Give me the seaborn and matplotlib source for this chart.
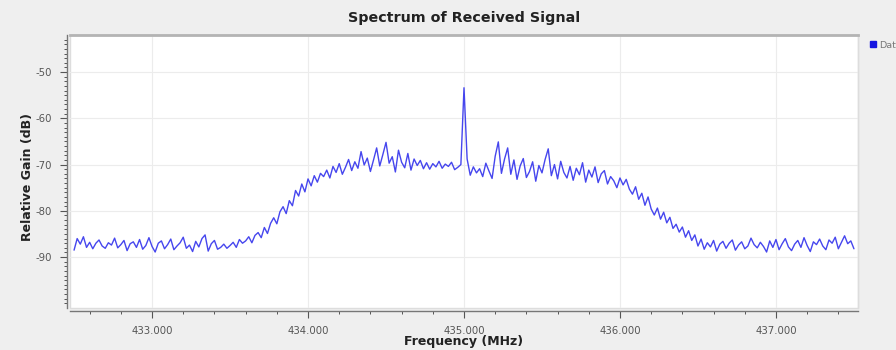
import numpy as np
import pandas as pd
import matplotlib
matplotlib.use("Agg")
import matplotlib.pyplot as plt
import seaborn as sns
from matplotlib.ticker import FixedLocator, FormatStrFormatter
from matplotlib.lines import Line2D

# ---------------- data ----------------
f_start_mhz = 432.5
f_stop_mhz = 437.5
gain_db = [
    -88.5, -86.0, -87.2, -85.6, -87.9, -86.8, -88.2, -87.0, -86.3, -87.6,
    -88.1, -86.9, -87.4, -85.9, -88.0, -87.3, -86.4, -88.6, -87.1, -86.7,
    -87.9, -86.2, -88.3, -87.5, -85.8, -87.7, -88.9, -87.0, -86.5, -88.2,
    -87.3, -86.1, -88.4, -87.6, -86.9, -85.7, -88.1, -87.4, -88.8, -86.6,
    -87.8, -86.0, -85.2, -88.7, -87.1, -86.4, -88.3, -87.9, -87.2, -88.1,
    -87.5, -86.8, -87.9, -86.2, -87.0, -86.5, -85.6, -86.9, -85.3, -84.7,
    -85.8, -83.6, -84.9, -82.7, -81.5, -82.8, -80.2, -79.1, -80.6, -77.8,
    -78.9, -75.6, -76.8, -74.2, -75.9, -73.1, -74.6, -72.4, -73.8, -71.9,
    -72.6, -71.2, -72.9, -70.4, -71.7, -69.8, -72.1, -70.6, -68.9, -71.3,
    -69.4, -70.8, -67.2, -70.1, -68.6, -71.5, -69.0, -66.4, -70.3, -67.8,
    -65.2, -69.7, -68.3, -71.6, -66.9, -69.5, -70.7, -67.6, -71.2, -68.8,
    -70.2, -69.1, -70.9, -69.6, -71.0, -69.8, -70.5, -69.3, -70.8, -69.9,
    -70.4, -69.5, -71.1, -70.6, -70.0, -53.4, -68.8, -72.3, -70.5, -71.8,
    -70.9, -72.6, -69.7, -71.4, -73.0, -68.2, -65.1, -71.9, -68.8, -66.4,
    -72.1, -69.0, -73.2, -70.3, -68.7, -72.8, -71.5, -69.4, -73.6, -70.2,
    -71.8, -68.9, -66.6, -72.4, -70.0, -73.1, -69.3, -71.7, -72.9, -70.4,
    -73.4, -70.8, -72.2, -69.6, -73.8, -71.2, -72.7, -70.5, -73.9, -72.0,
    -71.3, -74.2, -72.6, -73.5, -75.0, -72.9, -74.4, -73.2, -75.3, -76.4,
    -74.8, -77.5, -76.2, -78.8, -77.0, -79.6, -80.9, -79.4, -81.8, -80.3,
    -82.6, -81.4, -83.8, -82.9, -84.6, -83.5, -85.7, -84.3, -86.4, -85.2,
    -87.6, -86.1, -88.3, -86.9, -87.8, -86.4, -88.7, -87.2, -86.6, -88.1,
    -87.0, -86.3, -88.5, -87.4, -86.7, -88.2, -87.6, -85.9, -87.3, -88.0,
    -86.8, -87.7, -88.9, -86.5, -87.9, -86.2, -88.4, -87.1, -86.0, -87.8,
    -88.6, -87.2, -86.4, -87.9, -85.8, -87.5, -88.8, -86.7, -87.3, -86.1,
    -87.6, -88.4, -86.3, -87.0, -85.7, -88.2, -86.8, -85.4, -87.1, -86.5,
    -88.2,
]
freq_mhz = np.linspace(f_start_mhz, f_stop_mhz, len(gain_db))
x_major_ticks = [433.0, 434.0, 435.0, 436.0, 437.0]
y_major_ticks = [-90, -80, -70, -60, -50]
title_text = "Spectrum of Received Signal"
x_label = "Frequency (MHz)"
y_label = "Relative Gain (dB)"
legend_label = "Data"

df = pd.DataFrame({"freq": freq_mhz, "gain": gain_db})

# ---------------- style ----------------
sns.set_theme(style="white")
plt.rcParams["font.family"] = ["DejaVu Sans"]

W, H = 896, 350
fig = plt.figure(figsize=(W / 100, H / 100), dpi=100)
fig.patch.set_facecolor("#efefef")

ax = fig.add_axes([70 / W, 1 - 308 / H, (858 - 70) / W, (308 - 35) / H])
ax.set_facecolor("white")

sns.lineplot(data=df, x="freq", y="gain", ax=ax, color="#4646ee",
             linewidth=1.0, legend=False)

ax.set_xlim(432.474, 437.526)
ax.set_ylim(-101, -42)

ax.xaxis.set_major_locator(FixedLocator(x_major_ticks))
ax.xaxis.set_minor_locator(FixedLocator(list(np.arange(432.6, 437.45, 0.2))))
ax.xaxis.set_major_formatter(FormatStrFormatter("%.3f"))
ax.yaxis.set_major_locator(FixedLocator(y_major_ticks))
ax.yaxis.set_minor_locator(FixedLocator(list(range(-100, -42))))
ax.yaxis.set_major_formatter(FormatStrFormatter("%d"))

ax.tick_params(axis="both", which="major", length=5, width=0.8,
               color="#555555", labelsize=7.3, labelcolor="#555555",
               direction="out", pad=6)
ax.tick_params(axis="both", which="minor", length=2.5, width=0.7,
               color="#555555", direction="out")
ax.tick_params(axis="x", which="both", bottom=True)
ax.tick_params(axis="y", which="both", left=True)

ax.grid(True, which="major", color="#ececec", linewidth=0.8)
ax.set_axisbelow(True)

for side in ["left", "bottom"]:
    ax.spines[side].set_position(("outward", 2))
    ax.spines[side].set_color("#777777")
    ax.spines[side].set_linewidth(1.0)
ax.spines["top"].set_color("#b4b4b4")
ax.spines["top"].set_linewidth(2.0)
ax.spines["right"].set_color("#dddddd")
ax.spines["right"].set_linewidth(1.0)
ax.patch.set_edgecolor("#dddddd")
ax.patch.set_linewidth(1.0)

ax.set_xlabel("")
ax.set_ylabel("")

fig.text(464 / W, 1 - 18 / H, title_text, ha="center", va="center",
         fontsize=10.3, fontweight="bold", color="#222222")
fig.text(464 / W, 1 - 341 / H, x_label, ha="center", va="center",
         fontsize=9, fontweight="bold", color="#222222")
fig.text(27 / W, 1 - 177 / H, y_label, ha="center", va="center",
         rotation=90, fontsize=9, fontweight="bold", color="#222222")

handle = Line2D([], [], marker="s", linestyle="", color="#1515e0",
                markersize=3.8)
fig.legend(handles=[handle], labels=[legend_label], loc="center left",
           bbox_to_anchor=(864 / W, 1 - 45 / H), frameon=False,
           fontsize=6.8, labelcolor="#777777", handletextpad=0.2,
           handlelength=1.0, borderaxespad=0)

fig.savefig("out.png", dpi=100, facecolor=fig.get_facecolor())
